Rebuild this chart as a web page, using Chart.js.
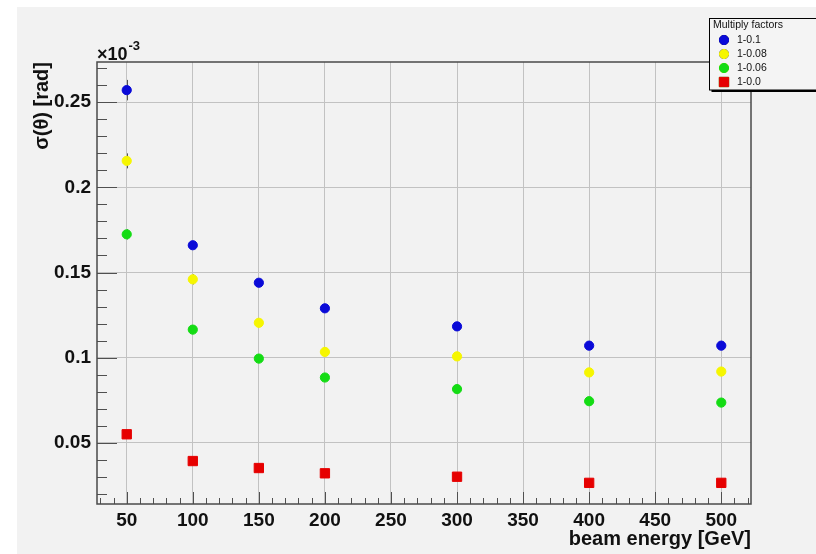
<!DOCTYPE html>
<html>
<head>
<meta charset="utf-8">
<script src="https://cdn.jsdelivr.net/npm/chart.js@4"></script>
<style>
html, body { margin: 0; padding: 0; background: #fff; }
#wrap { width: 816px; height: 554px; }
</style>
</head>
<body>
<div id="wrap"><canvas id="sigmaChart" width="816" height="554"></canvas></div>
<script>
// beam energy [GeV]
const energies = [50, 100, 150, 200, 300, 400, 500];
const seriesLabels = ['1-0.1', '1-0.08', '1-0.06', '1-0.0'];

// sigma(theta) in units of 1e-3 rad
const sigma010 = [0.257, 0.166, 0.144, 0.129, 0.1184, 0.1071, 0.1071];
const sigma008 = [0.2155, 0.146, 0.1205, 0.1034, 0.1008, 0.0914, 0.0919];
const sigma006 = [0.1724, 0.1165, 0.0995, 0.0884, 0.0816, 0.0745, 0.0737];
const sigma000 = [0.0551, 0.0394, 0.0353, 0.0322, 0.0302, 0.0266, 0.0266];

// errors (only visible at low energy)
const err010 = [0.006, 0, 0, 0, 0, 0, 0];
const err008 = [0.0044, 0.003, 0, 0, 0, 0, 0];
const err006 = [0.003, 0, 0, 0, 0, 0, 0];
const err000 = [0, 0, 0, 0, 0, 0, 0];

const xTickLabels = ['50', '100', '150', '200', '250', '300', '350', '400', '450', '500'];
const yTickLabels = ['0.05', '0.1', '0.15', '0.2', '0.25'];

const FONT = "'Liberation Sans', Arial, Helvetica, sans-serif";

function points(vals, errs) {
    return energies.map((e, i) => ({ x: e, y: vals[i], err: errs[i] }));
}
function yLabel(v) { return String(Math.round(v * 100) / 100); }
function isMajorX(v) { return xTickLabels.includes(String(Math.round(v))); }
function isMajorY(v) { return yTickLabels.includes(yLabel(v)); }

// grey pad background
const padBg = {
    id: 'padBg',
    beforeDraw(chart) {
        const c = chart.ctx;
        c.save();
        c.fillStyle = '#ffffff';
        c.fillRect(0, 0, chart.width, chart.height);
        c.fillStyle = '#f2f2f2';
        c.fillRect(17, 7, chart.width - 17, chart.height - 7);
        c.restore();
    }
};

// frame, inside ticks, exponent label, error bars
const frame = {
    id: 'frame',
    beforeDatasetsDraw(chart) {
        const c = chart.ctx, a = chart.chartArea;
        const xs = chart.scales.x, ys = chart.scales.y;
        c.save();
        c.strokeStyle = '#505050';
        c.lineWidth = 1;
        c.beginPath();
        xs.ticks.forEach(t => {
            const px = Math.round(xs.getPixelForValue(t.value)) + 0.5;
            const len = isMajorX(t.value) ? 12 : 6;
            c.moveTo(px, a.bottom);
            c.lineTo(px, a.bottom - len);
        });
        ys.ticks.forEach(t => {
            const py = Math.round(ys.getPixelForValue(t.value)) + 0.5;
            const len = isMajorY(t.value) ? 20 : 10;
            c.moveTo(a.left, py);
            c.lineTo(a.left + len, py);
        });
        c.stroke();
        c.lineWidth = 1.5;
        c.strokeStyle = '#4a4a4a';
        c.strokeRect(a.left, a.top, a.right - a.left, a.bottom - a.top);

        // exponent
        c.fillStyle = '#111';
        c.textBaseline = 'alphabetic';
        c.textAlign = 'left';
        c.font = 'bold 18px ' + FONT;
        c.fillText('\u00d710', a.left, a.top - 2);
        const w = c.measureText('\u00d710').width;
        c.font = 'bold 13px ' + FONT;
        c.fillText('-3', a.left + w + 1, a.top - 12);

        // error bars
        c.strokeStyle = '#555';
        c.lineWidth = 1;
        chart.data.datasets.forEach(ds => {
            ds.data.forEach(p => {
                if (!p.err) return;
                const px = Math.round(xs.getPixelForValue(p.x)) + 0.5;
                c.beginPath();
                c.moveTo(px, ys.getPixelForValue(p.y + p.err));
                c.lineTo(px, ys.getPixelForValue(p.y - p.err));
                c.stroke();
            });
        });
        c.restore();
    }
};

// ROOT-like legend box
const rootLegend = {
    id: 'rootLegend',
    afterDraw(chart) {
        const c = chart.ctx;
        const x0 = 709.5, y0 = 18.5, y1 = 90;
        c.save();
        c.fillStyle = '#000';
        c.fillRect(x0 + 2, y1, chart.width, 2);
        c.fillStyle = '#f4f4f4';
        c.fillRect(x0, y0, chart.width, y1 - y0);
        c.strokeStyle = '#000';
        c.lineWidth = 1;
        c.strokeRect(x0, y0, chart.width, y1 - y0);
        c.fillStyle = '#111';
        c.font = '10.5px ' + FONT;
        c.textBaseline = 'middle';
        c.textAlign = 'left';
        c.fillText('Multiply factors', 713, 25.5);
        const rows = [40, 54, 68, 82];
        chart.data.datasets.forEach((ds, i) => {
            Chart.helpers.drawPoint(c, {
                pointStyle: ds.pointStyle,
                radius: ds.pointRadius,
                borderWidth: 1
            }, 724, rows[i]);
            c.fillStyle = ds.backgroundColor;
            c.strokeStyle = ds.borderColor;
            c.fill();
            c.stroke();
            c.fillStyle = '#111';
            c.fillText(ds.label, 737, rows[i]);
        });
        c.restore();
    }
};

function dataset(label, vals, errs, color, style, r) {
    return {
        label: label,
        data: points(vals, errs),
        backgroundColor: color,
        borderColor: color,
        borderWidth: 1,
        pointStyle: style,
        pointRadius: r,
        pointHoverRadius: r,
        showLine: false
    };
}

const ctx = document.getElementById('sigmaChart').getContext('2d');
new Chart(ctx, {
    type: 'scatter',
    data: {
        datasets: [
            dataset(seriesLabels[0], sigma010, err010, '#0a0ad8', 'circle', 4.6),
            dataset(seriesLabels[1], sigma008, err008, '#f6f600', 'circle', 4.6),
            dataset(seriesLabels[2], sigma006, err006, '#14dc14', 'circle', 4.6),
            dataset(seriesLabels[3], sigma000, err000, '#e60000', 'rect', 6.6)
        ]
    },
    options: {
        responsive: false,
        animation: false,
        layout: { padding: { left: 0, right: 65, top: 62, bottom: 0 } },
        plugins: {
            legend: { display: false },
            tooltip: { enabled: false }
        },
        scales: {
            x: {
                type: 'linear',
                min: 27.5,
                max: 522.5,
                afterFit(s) { s.height = 50; },
                border: { display: false },
                grid: {
                    drawTicks: false,
                    color: c => isMajorX(c.tick.value) ? '#c2c2c2' : 'rgba(0,0,0,0)',
                    lineWidth: 1
                },
                ticks: {
                    stepSize: 10,
                    includeBounds: false,
                    autoSkip: false,
                    maxRotation: 0,
                    padding: 5,
                    color: '#111',
                    font: { family: FONT, size: 19, weight: 'bold' },
                    callback: v => isMajorX(v) ? String(Math.round(v)) : ''
                },
                title: {
                    display: true,
                    text: 'beam energy [GeV]',
                    align: 'end',
                    color: '#111',
                    padding: { top: 0, bottom: 3 },
                    font: { family: FONT, size: 20, weight: 'bold' }
                }
            },
            y: {
                type: 'linear',
                min: 0.0142,
                max: 0.2735,
                afterFit(s) { s.width = 97; },
                border: { display: false },
                grid: {
                    drawTicks: false,
                    color: c => isMajorY(c.tick.value) ? '#c2c2c2' : 'rgba(0,0,0,0)',
                    lineWidth: 1
                },
                ticks: {
                    stepSize: 0.01,
                    includeBounds: false,
                    autoSkip: false,
                    padding: 6,
                    color: '#111',
                    font: { family: FONT, size: 19, weight: 'bold' },
                    callback: v => isMajorY(v) ? yLabel(v) : ''
                },
                title: {
                    display: true,
                    text: '\u03c3(\u03b8) [rad]',
                    align: 'end',
                    color: '#111',
                    padding: { top: 30, bottom: 0 },
                    font: { family: FONT, size: 20, weight: 'bold' }
                }
            }
        }
    },
    plugins: [padBg, frame, rootLegend]
});
</script>
</body>
</html>
